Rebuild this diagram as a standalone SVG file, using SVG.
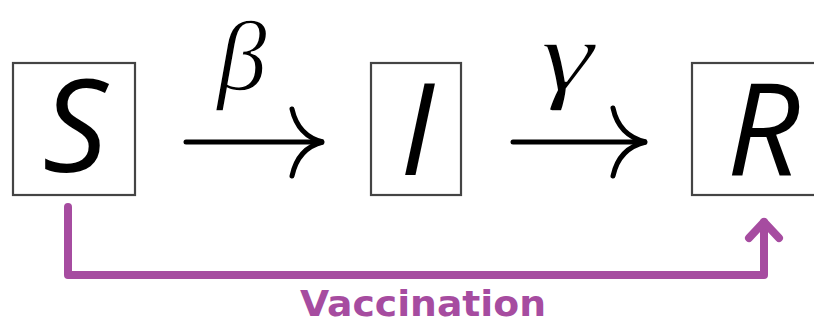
<svg xmlns="http://www.w3.org/2000/svg" width="814" height="324" viewBox="0 0 814 324">
<style>
.box{fill:#fff;stroke:#444;stroke-width:2.2}
.var{font-family:"Open Sans","DejaVu Sans",sans-serif;font-style:italic;font-size:128px;fill:#000;text-anchor:middle}
.greek{font-family:"Liberation Serif","DejaVu Serif",serif;font-style:italic;fill:#000;stroke:#fff;stroke-width:1.6;text-anchor:middle}
.arr{fill:none;stroke:#000;stroke-width:5;stroke-linecap:round}
.vac{fill:none;stroke:#a64ca0;stroke-width:8;stroke-linecap:round;stroke-linejoin:round}
.vlabel{font-family:"DejaVu Sans",sans-serif;font-weight:bold;font-size:36px;fill:#a64ca0;text-anchor:middle}
</style>
<rect width="814" height="324" fill="#fff"/>
<g id="node-S">
<rect class="box" x="13" y="63" width="122" height="132"/>
<text class="var" x="75" y="172">S</text>
</g>
<g id="node-I">
<rect class="box" x="371" y="63" width="90" height="132"/>
<text class="var" x="417" y="175">I</text>
</g>
<g id="node-R">
<rect class="box" x="692" y="63" width="130" height="132"/>
<text class="var" x="763" y="175">R</text>
</g>
<g id="connectors">
<g id="edge-beta">
<path class="arr" d="M186,142 H322"/>
<path class="arr" d="M292,109 Q298,136 323,142 Q298,148 292,176"/>
<text class="greek" x="242" y="90" font-size="100">β</text>
</g>
<g id="edge-gamma">
<path class="arr" d="M513,142 H645"/>
<path class="arr" d="M613,108 Q619,136 646,142 Q619,148 613,176"/>
<text class="greek" transform="translate(567,0) scale(1.35,1)" x="0" y="90" font-size="100">γ</text>
</g>
<g id="edge-vaccination">
<path class="vac" d="M68,207 V275 H764 V222"/>
<path class="vac" d="M749,238 L764,222 L779,238"/>
<text class="vlabel" x="423" y="316" textLength="246" lengthAdjust="spacingAndGlyphs">Vaccination</text>
</g>
</g>
</svg>
